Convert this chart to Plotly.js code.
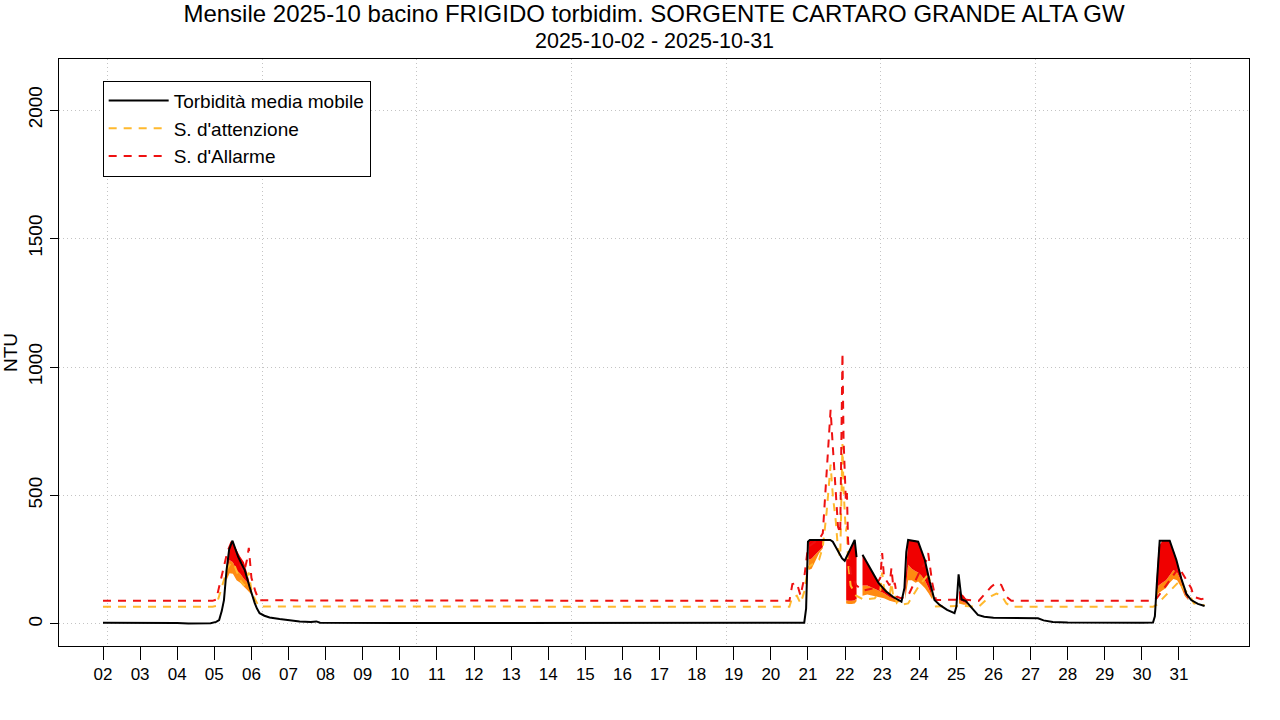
<!DOCTYPE html>
<html><head><meta charset="utf-8">
<script src="https://cdn.plot.ly/plotly-3.0.1.min.js"></script>
<style>html,body{margin:0;padding:0;background:#fff}#chart{width:1280px;height:720px}</style>
</head><body><div id="chart"></div>
<script>
// ---- tick labels (days of October 2025) ----
const dayTicks = [2,3,4,5,6,7,8,9,10,11,12,13,14,15,16,17,18,19,20,21,22,23,24,25,26,27,28,29,30,31];
const dayLabels = ['02','03','04','05','06','07','08','09','10','11','12','13','14','15','16','17','18','19','20','21','22','23','24','25','26','27','28','29','30','31'];

// ---- Torbidità media mobile (x = day of month, fractional) ----
const ntuDay = [2.0,2.5,3.0,3.5,4.0,4.3,4.6,4.9,5.05,5.13,5.2,5.26,5.33,5.4,5.49,5.56,5.64,5.73,5.82,5.95,
  6.02,6.09,6.15,6.22,6.35,6.49,6.76,7.0,7.3,7.6,7.75,7.85,8.5,9,10,11,12,13,14,15,
  16,17,18,19,20,20.9,20.95,21.0,21.05,21.6,21.67,21.8,21.92,21.99,22.1,22.26,22.31,22.38,22.47,22.6,
  22.75,22.9,23.11,23.3,23.52,23.6,23.65,23.7,23.97,24.05,24.15,24.28,24.41,24.55,24.75,24.95,25.0,25.06,25.14,25.25,
  25.35,25.45,25.58,25.75,26.0,26.5,27.0,27.2,27.35,27.6,28.0,28.5,29.0,29.5,30.0,30.3,30.35,30.4,30.48,30.75,
  30.93,31.06,31.2,31.33,31.51,31.69];
const ntuMedia = [5,5,5,5,4,2,2,3,8,15,50,93,210,290,324,295,262,235,210,145,
  110,81,60,42,32,25,19,14,10,8,10,5,4,4,4,4,4,4,4,4,
  4,4,4,4,4,5,60,320,327,327,320,285,255,246,280,327,260,null,269,235,
  197,160,126,105,87,140,280,327,320,290,249,165,93,74,55,42,67,193,95,90,
  75,57,35,28,24,22,20,22,14,8,6,5,5,5,5,6,30,150,324,324,
  249,178,117,93,78,70];

// ---- Soglie ----
const thrDay = [2.0,4.95,5.05,5.2,5.35,5.45,5.55,5.7,5.8,5.88,5.93,6.0,6.1,6.2,20.5,20.58,20.7,20.8,20.9,21.0,
  21.3,21.4,21.5,21.61,21.67,21.75,21.81,21.87,21.93,21.96,22.02,22.05,22.08,22.15,22.3,22.5,22.8,22.95,23.0,23.05,
  23.2,23.25,23.3,23.34,23.4,23.5,23.7,24.0,24.2,24.24,24.3,24.35,24.45,25.0,25.2,25.6,25.81,25.94,26.08,26.21,
  26.35,26.48,30.3,30.4,31.0,31.07,31.2,31.33,31.4,31.6,31.69];
const sogliaAllarme = [90,90,95,190,280,315,300,230,200,250,296,180,130,92,90,155,160,110,180,300,
  330,353,587,833,690,522,378,353,1055,715,483,510,327,200,150,130,140,180,276,183,
  150,218,144,160,106,100,110,200,250,276,210,160,93,95,95,90,126,145,160,152,
  106,90,90,100,220,204,170,139,106,96,100];
const sogliaAttenzione = [67,67,70,140,215,240,225,170,150,185,200,130,95,68,67,105,110,80,125,220,
  250,300,430,620,500,400,290,260,700,520,360,380,240,150,110,95,100,130,200,140,
  110,160,105,115,80,75,80,150,185,200,155,120,68,70,70,67,95,108,118,112,
  80,67,67,75,165,150,125,100,80,72,74];

// ---- superamenti (fill bands per event): top / red-low / orange-low / yellow-low ----
const ev1Day = [5.33,5.41,5.5,5.6,5.7,5.8,5.9,6.0];
const ev1Top = [210,295,320,288,262,240,190,130];
const ev1Red = [200,249,240,210,195,175,160,125];
const ev1Org = [170,197,195,170,160,145,130,115];
const ev1Yel = [140,150,160,145,135,125,110,105];

const ev2Day = [21.02,21.1,21.2,21.3,21.4];
const ev2Top = [320,327,327,327,327];
const ev2Red = [250,255,270,285,300];
const ev2Org = [210,215,245,275,295];
const ev2Yel = [175,180,225,265,290];

const ev3Day = [22.03,22.1,22.18,22.26,22.31];
const ev3Top = [250,280,305,327,260];
const ev3Red = [92,90,90,92,100];
const ev3Org = [80,78,78,80,88];
const ev3Yel = [70,68,68,70,78];

const ev4Day = [22.47,22.6,22.75,22.9,23.05,23.2,23.35,23.47];
const ev4Top = [269,235,197,165,140,115,100,87];
const ev4Red = [150,150,140,130,120,105,95,87];
const ev4Org = [110,115,110,105,100,90,85,85];
const ev4Yel = [85,90,85,85,82,80,80,85];

const ev5Day = [23.62,23.7,23.8,23.9,23.97,24.05,24.15,24.25,24.35];
const ev5Top = [150,327,327,325,320,290,249,190,120];
const ev5Red = [110,230,215,205,200,190,170,140,105];
const ev5Org = [95,170,170,160,165,155,140,120,95];
const ev5Yel = [88,110,140,135,145,130,115,100,88];

const ev6Day = [25.07,25.12,25.2,25.3];
const ev6Top = [130,120,110,90];
const ev6Red = [95,90,85,80];
const ev6Org = [80,78,75,75];
const ev6Yel = [70,70,70,72];

const ev7Day = [30.38,30.45,30.55,30.65,30.75,30.85,30.95,31.05,31.15,31.25];
const ev7Top = [140,300,324,324,324,280,240,190,140,100];
const ev7Red = [110,150,160,170,190,210,200,170,120,95];
const ev7Org = [95,120,130,140,160,175,170,145,110,92];
const ev7Yel = [85,95,100,110,130,150,140,120,100,90];

const events = [
  [ev1Day,ev1Top,ev1Red,ev1Org,ev1Yel],[ev2Day,ev2Top,ev2Red,ev2Org,ev2Yel],
  [ev3Day,ev3Top,ev3Red,ev3Org,ev3Yel],[ev4Day,ev4Top,ev4Red,ev4Org,ev4Yel],
  [ev5Day,ev5Top,ev5Red,ev5Org,ev5Yel],[ev6Day,ev6Top,ev6Red,ev6Org,ev6Yel],
  [ev7Day,ev7Top,ev7Red,ev7Org,ev7Yel]];

const titleText = 'Mensile 2025-10 bacino FRIGIDO torbidim. SORGENTE CARTARO GRANDE ALTA GW';
const subtitleText = '2025-10-02 - 2025-10-31';

const FONT = 'Liberation Sans, Arial, sans-serif';
const RED = '#F00000', ORANGE = '#FF8A10', YELLOW = '#FFBE40';
const traces = [];
events.forEach(ev => {
  const [d, top, r, o, y] = ev;
  const base = {x: d, type: 'scatter', showlegend: false, hoverinfo: 'skip'};
  traces.push(Object.assign({}, base, {y: y, mode: 'none'}));
  traces.push(Object.assign({}, base, {y: o, mode: 'none', fill: 'tonexty', fillcolor: YELLOW}));
  traces.push(Object.assign({}, base, {y: r, mode: 'none', fill: 'tonexty', fillcolor: ORANGE}));
  traces.push(Object.assign({}, base, {y: top, mode: 'none', fill: 'tonexty', fillcolor: RED}));
});
traces.push({x: thrDay, y: sogliaAttenzione, type: 'scatter', mode: 'lines', name: "S. d'attenzione",
  line: {color: '#FFB92E', width: 2, dash: '8px,7px'}, legendrank: 2});
traces.push({x: thrDay, y: sogliaAllarme, type: 'scatter', mode: 'lines', name: "S. d'Allarme",
  line: {color: '#EE1111', width: 2, dash: '8px,7px'}, legendrank: 3});
traces.push({x: ntuDay, y: ntuMedia, type: 'scatter', mode: 'lines', name: 'Torbidità media mobile',
  line: {color: '#000000', width: 2}, connectgaps: false, legendrank: 1});

const layout = {
  width: 1280, height: 720,
  margin: {l: 59, r: 31, t: 59, b: 74},
  paper_bgcolor: '#ffffff', plot_bgcolor: '#ffffff',
  font: {family: FONT, color: '#000000'},
  title: {
    text: titleText,
    font: {family: FONT, size: 24, color: '#000000'},
    x: 0.5, xref: 'paper', xanchor: 'center', y: 1 - 14/720, yref: 'container', yanchor: 'middle'
  },
  annotations: [{
    text: subtitleText, xref: 'paper', yref: 'paper', x: 0.5, y: 1 + (59.3 - 41) / 586.7,
    xanchor: 'center', yanchor: 'middle', showarrow: false,
    font: {family: FONT, size: 21.5, color: '#000000'}
  }],
  xaxis: {
    range: [0.814, 32.887], tickmode: 'array', tickvals: dayTicks, ticktext: dayLabels,
    ticks: 'outside', ticklen: 13, tickwidth: 1, tickcolor: '#000000', tickfont: {size: 17},
    showline: true, mirror: true, linecolor: '#000000', linewidth: 1,
    showgrid: false, zeroline: false,
    minor: {tickmode: 'linear', tick0: 2.1186, dtick: 4.169, showgrid: true, gridcolor: '#c4c4c4', griddash: '1px,3px', gridwidth: 1, ticks: ''}
  },
  yaxis: {
    range: [-85.7, 2198.6], tickmode: 'linear', tick0: 0, dtick: 500,
    ticks: 'outside', ticklen: 8, tickwidth: 1, tickcolor: '#000000', tickfont: {size: 19}, tickangle: -90,
    showline: true, mirror: true, linecolor: '#000000', linewidth: 1,
    showgrid: true, gridcolor: '#c4c4c4', griddash: '1px,3px', gridwidth: 1, zeroline: false,
    title: {text: 'NTU', font: {size: 19}, standoff: 8}
  },
  showlegend: true,
  legend: {
    x: 0.0367, y: 1 - (81 - 59.3) / 586.7, xanchor: 'left', yanchor: 'top', traceorder: 'normal',
    bgcolor: '#ffffff', bordercolor: '#000000', borderwidth: 1,
    font: {size: 19, family: FONT}, itemwidth: 60, tracegroupgap: 0
  }
};

Plotly.newPlot('chart', traces, layout, {displayModeBar: false, staticPlot: true});
</script></body></html>
